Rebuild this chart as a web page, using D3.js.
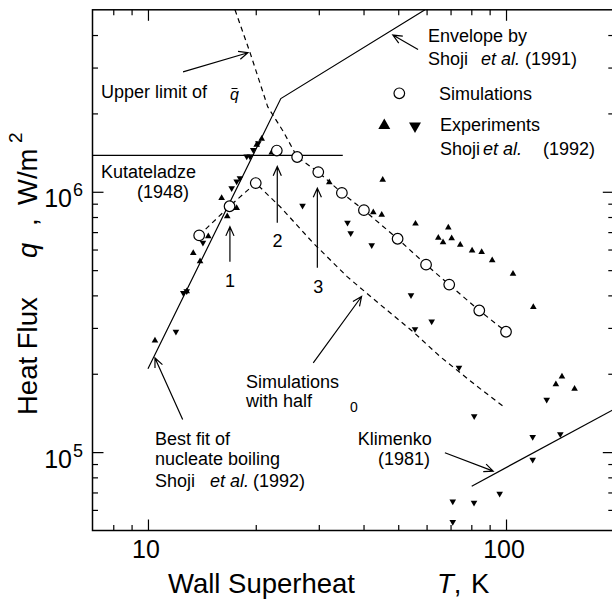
<!DOCTYPE html>
<html>
<head>
<meta charset="utf-8">
<script src="https://cdn.jsdelivr.net/npm/d3@7"></script>
<style>
  body { margin: 0; background: #fff; }
  svg { display: block; font-family: "Liberation Sans", Arial, sans-serif; }
</style>
</head>
<body>
<svg id="chart" width="612" height="600"></svg>
<script>
// simulations (open circles)
const simT = [13.9, 16.9, 20.0, 22.9, 26.1, 29.9, 34.8, 40.1, 49.8, 59.8, 69.4, 84.2, 100];
const simQ = [6.8e5, 8.8e5, 1.08e6, 1.44e6, 1.36e6, 1.19e6, 9.9e5, 8.5e5, 6.6e5, 5.25e5, 4.4e5, 3.5e5, 2.9e5];

// experiments, Shoji et al. (1992)
const upT = [10.46, 12.83, 13.38, 13.98, 14.74, 16.06, 16.65, 17.69, 20.12, 20.78, 22.16, 32.09, 45.25, 42.59,
  44.96, 55.87, 69.0, 64.7, 66.7, 70.5, 74.5, 80.4, 85.5, 91.5, 104.6, 119.2, 143.3, 137.8, 155.4];
const upQ = [2.68e5, 4.15e5, 5.82e5, 5.40e5, 6.74e5, 9.46e5, 8.04e5, 8.66e5, 1.515e6, 1.597e6, 1.415e6, 1.086e6, 1.112e6, 8.33e5,
  8.16e5, 7.54e5, 7.28e5, 6.66e5, 6.39e5, 6.63e5, 6.26e5, 5.95e5, 5.87e5, 5.45e5, 4.84e5, 3.61e5, 1.95e5, 1.82e5, 1.75e5];
const downT = [11.97, 12.83, 12.55, 14.24, 17.13, 17.69, 18.07, 18.87, 19.27, 19.68, 20.33, 27.02, 36.08, 36.83,
  42.16, 54.28, 55.7, 62.0, 73.9, 81.5, 129.9, 118.7, 141.8, 118.7, 96.0, 71.0, 81.4, 71.0];
const downQ = [2.90e5, 4.15e5, 4.09e5, 6.37e5, 1.033e6, 1.095e6, 1.129e6, 1.366e6, 1.366e6, 1.449e6, 1.538e6, 8.84e5, 7.61e5, 6.94e5,
  6.23e5, 4.01e5, 2.97e5, 3.18e5, 2.11e5, 1.375e5, 1.589e5, 1.144e5, 1.172e5, 9.35e4, 6.92e4, 6.47e4, 6.39e4, 5.39e4];

// correlations and curves
const envT = [10.0, 23.5, 59.4];            // best fit + envelope (Shoji 1991)
const envQ = [2.09e5, 2.28e6, 5.0e6];
const kutT = [7, 35];                       // Kutateladze (1948)
const kutQ = [1.38e6, 1.38e6];
const klimT = [80.2, 200];                  // Klimenko (1981)
const klimQ = [7.4e4, 1.46e5];
const limT = [17.5, 19.3, 21.6, 23.9, 26.1, 29.9, 34.8, 40.1, 49.8, 59.8, 69.4, 84.2, 100];   // upper limit of q
const limQ = [5.0e6, 3.41e6, 2.12e6, 1.70e6, 1.36e6, 1.19e6, 9.9e5, 8.5e5, 6.6e5, 5.25e5, 4.4e5, 3.5e5, 2.9e5];
const halfT = [13.9, 16.9, 20.0, 23.4, 28.9, 36.0, 44.5, 55.0, 65.4, 83.0, 99.4];           // simulations with half
const halfQ = [6.8e5, 8.8e5, 1.08e6, 8.76e5, 6.37e5, 4.72e5, 3.69e5, 2.90e5, 2.33e5, 1.79e5, 1.48e5];

// ticks
const xMajor = [10, 100];
const xMinor = [8, 9, 20, 30, 40, 50, 60, 70, 80, 90, 200];
const yMajor = [1e5, 1e6];
const yMinor = [6e4, 7e4, 8e4, 9e4, 2e5, 3e5, 4e5, 5e5, 6e5, 7e5, 8e5, 9e5, 2e6, 3e6, 4e6];
const xTickLabels = ["10", "100"];
const yTickExp = ["5", "6"];

const svg = d3.select("#chart");
const x = d3.scaleLog().domain([7, 200]).range([92.5, 613.8]);
const y = d3.scaleLog().domain([5e4, 5e6]).range([530.5, 9.8]);
const [x0, x1] = x.range();
const [y0, y1] = y.range();

svg.append("rect").attr("width", 612).attr("height", 600).attr("fill", "#fff");

svg.append("clipPath").attr("id", "plot")
  .append("rect").attr("x", x0).attr("y", y1).attr("width", x1 - x0).attr("height", y0 - y1);

// axes: inward ticks on all four sides
function ticks(axis, tr, vals, len) {
  const g = svg.append("g").attr("transform", tr)
    .call(axis.tickValues(vals).tickSize(-len).tickSizeOuter(0).tickFormat(""));
  g.select(".domain").remove();
  g.selectAll("line").attr("stroke", "#000").attr("stroke-width", 1.2);
}
[[xMajor, 11], [xMinor, 5.5]].forEach(([v, l]) => {
  ticks(d3.axisBottom(x), `translate(0,${y0})`, v, l);
  ticks(d3.axisTop(x), `translate(0,${y1})`, v, l);
});
[[yMajor, 11], [yMinor, 5.5]].forEach(([v, l]) => {
  ticks(d3.axisLeft(y), `translate(${x0},0)`, v, l);
  ticks(d3.axisRight(y), `translate(${x1},0)`, v, l);
});

svg.append("rect")
  .attr("x", x0).attr("y", y1).attr("width", x1 - x0).attr("height", y0 - y1)
  .attr("fill", "none").attr("stroke", "#000").attr("stroke-width", 1.5);

// tick labels
svg.selectAll(".xlab").data(xMajor).enter().append("text")
  .attr("x", d => x(d) - 2).attr("y", 558)
  .attr("text-anchor", "middle").attr("font-size", 25)
  .text((d, i) => xTickLabels[i]);

yMajor.forEach((d, i) => {
  svg.append("text").attr("x", 72).attr("y", y(d) + 15.5)
    .attr("text-anchor", "end").attr("font-size", 25).text("10");
  svg.append("text").attr("x", 73).attr("y", y(d) + 4.5)
    .attr("font-size", 18).text(yTickExp[i]);
});

// axis titles
const xt = svg.append("text").attr("y", 593).attr("font-size", 27.5);
xt.append("tspan").attr("x", 168).text("Wall Superheat");
xt.append("tspan").attr("x", 437).attr("font-style", "italic").text("T");
xt.append("tspan").text(",");
xt.append("tspan").attr("x", 471).text("K");

const yt = svg.append("g").attr("transform", "translate(36.5,415) rotate(-90)");
yt.append("text").attr("font-size", 27.5).text("Heat Flux");
yt.append("text").attr("x", 157).attr("font-size", 27.5).attr("font-style", "italic").text("q");
yt.append("text").attr("x", 189).attr("font-size", 27.5).text(",");
yt.append("text").attr("x", 210).attr("font-size", 27.5).text("W/m");
yt.append("text").attr("x", 272).attr("y", -15).attr("font-size", 19).text("2");

// curves
const line = d3.line().x(d => x(d[0])).y(d => y(d[1]));
const zip = (a, b) => a.map((v, i) => [v, b[i]]);
const curves = svg.append("g").attr("clip-path", "url(#plot)")
  .attr("fill", "none").attr("stroke", "#000").attr("stroke-width", 1.2);

curves.append("path").attr("d", line(zip(envT, envQ)));
curves.append("path").attr("d", line(zip(kutT, kutQ)));
curves.append("path").attr("d", line(zip(klimT, klimQ)));
curves.append("path").attr("d", line(zip(limT, limQ))).attr("stroke-dasharray", "5,4");
curves.append("path").attr("d", line(zip(halfT, halfQ))).attr("stroke-dasharray", "5,4");

// experiments
const tri = d3.symbol().type(d3.symbolTriangle).size(19);
svg.append("g").selectAll("path").data(zip(upT, upQ)).enter().append("path")
  .attr("d", tri).attr("transform", d => `translate(${x(d[0])},${y(d[1])})`);
svg.append("g").selectAll("path").data(zip(downT, downQ)).enter().append("path")
  .attr("d", tri).attr("transform", d => `translate(${x(d[0])},${y(d[1])}) rotate(180)`);

// simulations
svg.append("g").selectAll("circle").data(zip(simT, simQ)).enter().append("circle")
  .attr("cx", d => x(d[0])).attr("cy", d => y(d[1])).attr("r", 5.3)
  .attr("fill", "#fff").attr("stroke", "#000").attr("stroke-width", 1.2);

// annotation arrows (tail and tip in data units)
const arrows = [
  [[12.53, 2.886e6], [19.02, 3.42e6]],   // upper limit of q
  [[56.8, 3.52e6], [48.3, 4.0e6]],       // envelope
  [[16.94, 5.39e5], [16.94, 7.34e5]],    // 1
  [[22.97, 7.61e5], [22.97, 1.25e6]],    // 2
  [[29.72, 5.11e5], [29.72, 1.033e6]],   // 3
  [[28.95, 2.2e5], [39.5, 3.96e5]],      // simulations with half
  [[12.5, 1.335e5], [10.46, 2.30e5]],    // best fit
  [[67.5, 9.95e4], [92.1, 8.45e4]]       // Klimenko
];
const ag = svg.append("g").attr("fill", "none").attr("stroke", "#000").attr("stroke-width", 1.2);
arrows.forEach(([a, b]) => {
  const ax = x(a[0]), ay = y(a[1]), bx = x(b[0]), by = y(b[1]);
  const ang = Math.atan2(ay - by, ax - bx), L = 10, w = 0.42;
  ag.append("path").attr("d",
    `M${ax},${ay}L${bx},${by}` +
    `M${bx + L * Math.cos(ang - w)},${by + L * Math.sin(ang - w)}L${bx},${by}` +
    `L${bx + L * Math.cos(ang + w)},${by + L * Math.sin(ang + w)}`);
});

// text annotations
function note(xp, yp, parts, size = 18, anchor = "start") {
  const t = svg.append("text").attr("y", yp).attr("font-size", size).attr("text-anchor", anchor);
  parts.forEach(([s, px, it]) => {
    const sp = t.append("tspan").attr("x", px === null ? xp : px).text(s);
    if (it) sp.attr("font-style", "italic");
  });
  return t;
}
note(101, 98, [["Upper limit of", 101]]);
note(230, 100, [["q", 230, true]], 16);
svg.append("line").attr("x1", 231.5).attr("x2", 237.5).attr("y1", 88.5).attr("y2", 88.5)
  .attr("stroke", "#000").attr("stroke-width", 1);

note(428, 42, [["Envelope by", 428]]);
note(428, 65, [["Shoji", 428], ["et al.", 481, true], ["(1991)", 525]]);

svg.append("circle").attr("cx", 399.3).attr("cy", 93.3).attr("r", 5.3)
  .attr("fill", "#fff").attr("stroke", "#000").attr("stroke-width", 1.2);
const triL = d3.symbol().type(d3.symbolTriangle).size(62);
svg.append("path").attr("d", triL).attr("transform", "translate(384.3,125.5)");
svg.append("path").attr("d", triL).attr("transform", "translate(415,126) rotate(180)");
note(439, 100, [["Simulations", 439]]);
note(440, 131, [["Experiments", 440]]);
note(440, 155, [["Shoji", 440], ["et al.", 483, true], ["(1992)", 543]]);

note(101, 178, [["Kutateladze", 101]]);
note(137, 198, [["(1948)", 137]]);

note(230, 286.5, [["1", 230]], 18, "middle");
note(277.5, 246.5, [["2", 277.5]], 18, "middle");
note(318.3, 293, [["3", 318.3]], 18, "middle");

note(246, 388, [["Simulations", 246]]);
note(246, 406.5, [["with half", 246]]);
note(350, 412, [["0", 350]], 14);

note(155, 444.5, [["Best fit of", 155]]);
note(155, 465, [["nucleate boiling", 155]]);
note(155, 487, [["Shoji", 155], ["et al.", 210, true], ["(1992)", 253]]);

note(357.7, 444.5, [["Klimenko", 357.7]]);
note(378, 465, [["(1981)", 378]]);
</script>
</body>
</html>
